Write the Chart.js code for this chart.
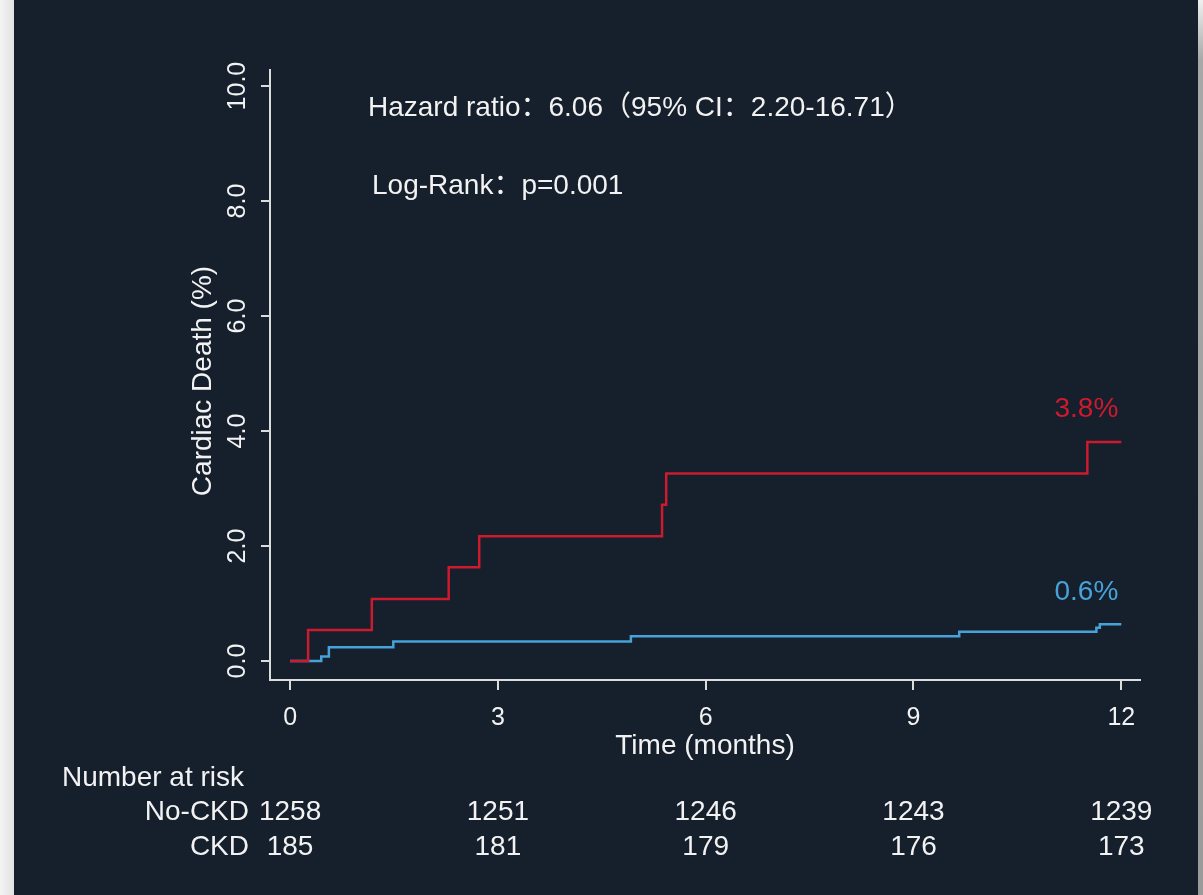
<!DOCTYPE html>
<html>
<head>
<meta charset="utf-8">
<script src="https://cdn.jsdelivr.net/npm/chart.js@4/dist/chart.umd.min.js"></script>
<style>
  html, body { margin: 0; padding: 0; width: 1203px; height: 895px; overflow: hidden; background: #161f2c; }
  #edgeLeft { position: absolute; left: 0; top: 0; width: 14px; height: 895px; background: linear-gradient(to right, #f4f4f4, #e2e2e2); }
  #edgeRight { position: absolute; right: 0; top: 0; width: 5px; height: 895px; background: linear-gradient(to bottom, #f0f0f0 0px, #a8a8a8 60px, #9a9a9a 895px); }
  #wrap { position: absolute; left: 0; top: 0; width: 1203px; height: 895px; }
</style>
</head>
<body>
<div id="edgeLeft"></div>
<div id="edgeRight"></div>
<div id="wrap"><canvas id="km" width="1203" height="895"></canvas></div>
<script>
// Kaplan-Meier cumulative incidence of cardiac death (%), by CKD status
const ckdTimes     = [0, 0.26, 1.18, 2.29, 2.73, 5.37, 5.43, 11.51, 12];
const ckdValues    = [0, 0.54, 1.08, 1.63, 2.17, 2.72, 3.26, 3.81, 3.81];
const noCkdTimes   = [0, 0.45, 0.56, 1.49, 4.92, 9.66, 11.64, 11.69, 12];
const noCkdValues  = [0, 0.08, 0.24, 0.34, 0.43, 0.51, 0.58, 0.64, 0.64];

const xTicks = [0, 3, 6, 9, 12];
const yTicks = [0, 2, 4, 6, 8, 10];

// Number at risk at each x tick
const riskGroups   = ['No-CKD', 'CKD'];
const riskNoCkd    = [1258, 1251, 1246, 1243, 1239];
const riskCkd      = [185, 181, 179, 176, 173];

const statLines = ['Hazard ratio：6.06（95% CI：2.20-16.71）', 'Log-Rank：p=0.001'];

const RED = '#cc1a2e';
const BLUE = '#46a2d8';
const INK = '#f2f2f2';
const AXIS = '#dcdcdc';
const FONT = '"Liberation Sans", Arial, "Noto Sans CJK SC", sans-serif';

const toPoints = (ts, vs) => ts.map((t, i) => ({ x: t, y: vs[i] }));

const kmText = {
  id: 'kmText',
  afterDraw(chart) {
    const { ctx, chartArea: ca, scales: { x, y } } = chart;
    ctx.save();
    ctx.fillStyle = INK;

    // y tick labels, rotated
    ctx.font = '25px ' + FONT;
    ctx.textAlign = 'center';
    ctx.textBaseline = 'middle';
    y.ticks.forEach(t => {
      ctx.save();
      ctx.translate(ca.left - 33, y.getPixelForValue(t.value));
      ctx.rotate(-Math.PI / 2);
      ctx.fillText(t.value.toFixed(1), 0, 1);
      ctx.restore();
    });

    // x tick labels
    x.ticks.forEach(t => {
      ctx.fillText(String(t.value), x.getPixelForValue(t.value), ca.bottom + 38);
    });

    // axis titles
    ctx.font = '28px ' + FONT;
    ctx.fillText('Time (months)', (ca.left + ca.right) / 2, ca.bottom + 66);
    ctx.save();
    ctx.translate(ca.left - 67, 381);
    ctx.rotate(-Math.PI / 2);
    ctx.fillText('Cardiac Death (%)', 0, 0);
    ctx.restore();

    // statistics
    ctx.textAlign = 'left';
    ctx.fillText(statLines[0], 368, 108);
    ctx.fillText(statLines[1], 372, 186);

    // end-of-follow-up labels
    ctx.textAlign = 'right';
    const lastX = x.getPixelForValue(ckdTimes[ckdTimes.length - 1]) - 3;
    const ckdLast = ckdValues[ckdValues.length - 1];
    const noLast = noCkdValues[noCkdValues.length - 1];
    ctx.fillStyle = RED;
    ctx.fillText(ckdLast.toFixed(1) + '%', lastX, y.getPixelForValue(ckdLast) - 33);
    ctx.fillStyle = BLUE;
    ctx.fillText(noLast.toFixed(1) + '%', lastX, y.getPixelForValue(noLast) - 32);

    // number at risk table
    ctx.fillStyle = INK;
    ctx.textAlign = 'left';
    ctx.fillText('Number at risk', 62, 778);
    ctx.textAlign = 'right';
    ctx.fillText(riskGroups[0], 249, 812);
    ctx.fillText(riskGroups[1], 249, 847);
    ctx.textAlign = 'center';
    xTicks.forEach((t, i) => {
      const px = x.getPixelForValue(t);
      ctx.fillText(String(riskNoCkd[i]), px, 812);
      ctx.fillText(String(riskCkd[i]), px, 847);
    });
    ctx.restore();
  }
};

new Chart(document.getElementById('km'), {
  type: 'scatter',
  data: {
    datasets: [
      { label: 'CKD', data: toPoints(ckdTimes, ckdValues), showLine: true, stepped: 'before',
        borderColor: RED, borderWidth: 2.5, pointRadius: 0, fill: false, order: 1 },
      { label: 'No-CKD', data: toPoints(noCkdTimes, noCkdValues), showLine: true, stepped: 'before',
        borderColor: BLUE, borderWidth: 2.5, pointRadius: 0, fill: false, order: 2 }
    ]
  },
  options: {
    responsive: false,
    animation: false,
    events: [],
    layout: { padding: { left: 261, right: 63, top: 70, bottom: 205 } },
    plugins: { legend: { display: false }, tooltip: { enabled: false } },
    scales: {
      x: {
        type: 'linear', min: -0.29, max: 12.27,
        afterBuildTicks: s => { s.ticks = xTicks.map(v => ({ value: v })); },
        ticks: { display: false },
        grid: { drawOnChartArea: false, drawTicks: true, tickLength: 10, color: AXIS, lineWidth: 2 },
        border: { display: true, color: AXIS, width: 2 }
      },
      y: {
        type: 'linear', min: -0.33, max: 10.28,
        afterBuildTicks: s => { s.ticks = yTicks.map(v => ({ value: v })); },
        ticks: { display: false },
        grid: { drawOnChartArea: false, drawTicks: true, tickLength: 9, color: AXIS, lineWidth: 2 },
        border: { display: true, color: AXIS, width: 2 }
      }
    }
  },
  plugins: [kmText]
});
</script>
</body>
</html>
